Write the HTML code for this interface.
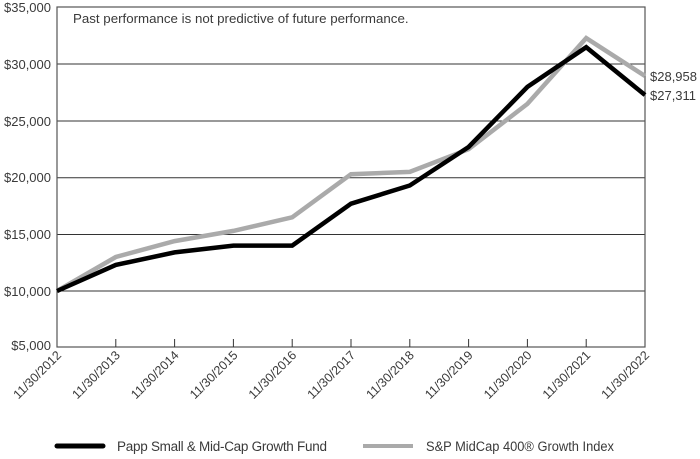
<!DOCTYPE html>
<html><head><style>
body{margin:0;background:#fff;}
svg text{font-family:"Liberation Sans",sans-serif;fill:#3a3a3a;}
</style></head><body>
<svg width="700" height="454" viewBox="0 0 700 454" xmlns="http://www.w3.org/2000/svg">
<g stroke="#333" stroke-width="1">
<line x1="57" y1="64" x2="645" y2="64"/>
<line x1="57" y1="121" x2="645" y2="121"/>
<line x1="57" y1="177.7" x2="645" y2="177.7"/>
<line x1="57" y1="234.5" x2="645" y2="234.5"/>
<line x1="57" y1="291" x2="645" y2="291"/>
</g>
<rect x="57" y="7" width="588" height="340" fill="none" stroke="#555" stroke-width="1.2"/>
<g stroke="#333" stroke-width="1">
<line x1="115.8" y1="339" x2="115.8" y2="347"/><line x1="174.6" y1="339" x2="174.6" y2="347"/>
<line x1="233.4" y1="339" x2="233.4" y2="347"/><line x1="292.2" y1="339" x2="292.2" y2="347"/>
<line x1="351" y1="339" x2="351" y2="347"/><line x1="409.8" y1="339" x2="409.8" y2="347"/>
<line x1="468.6" y1="339" x2="468.6" y2="347"/><line x1="527.4" y1="339" x2="527.4" y2="347"/>
<line x1="586.2" y1="339" x2="586.2" y2="347"/>
</g>
<g font-size="13" text-anchor="end">
<text x="51" y="12">$35,000</text><text x="51" y="69">$30,000</text><text x="51" y="126">$25,000</text>
<text x="51" y="182">$20,000</text><text x="51" y="239">$15,000</text><text x="51" y="296">$10,000</text>
<text x="51" y="350">$5,000</text>
</g>
<text x="73" y="23" font-size="13.3">Past performance is not predictive of future performance.</text>
<polyline fill="none" stroke="#aaa" stroke-width="4.5" points="57,291 115.8,257 174.6,241.1 233.4,230.9 292.2,217.3 351,174.2 409.8,171.9 468.6,149.2 527.4,103.9 586.2,38.1 645,76"/>
<polyline fill="none" stroke="#000" stroke-width="4.5" points="57,291 115.8,264.9 174.6,252.4 233.4,245.6 292.2,245.6 351,203.7 409.8,185.5 468.6,147 527.4,86.9 586.2,47.2 645,95"/>
<text x="650" y="81" font-size="13">$28,958</text>
<text x="650" y="100" font-size="13">$27,311</text>
<g font-size="12.5" text-anchor="end">
<text transform="translate(62,356) rotate(-45)">11/30/2012</text>
<text transform="translate(120.8,356) rotate(-45)">11/30/2013</text>
<text transform="translate(179.6,356) rotate(-45)">11/30/2014</text>
<text transform="translate(238.4,356) rotate(-45)">11/30/2015</text>
<text transform="translate(297.2,356) rotate(-45)">11/30/2016</text>
<text transform="translate(356,356) rotate(-45)">11/30/2017</text>
<text transform="translate(414.8,356) rotate(-45)">11/30/2018</text>
<text transform="translate(473.6,356) rotate(-45)">11/30/2019</text>
<text transform="translate(532.4,356) rotate(-45)">11/30/2020</text>
<text transform="translate(591.2,356) rotate(-45)">11/30/2021</text>
<text transform="translate(650,356) rotate(-45)">11/30/2022</text>
</g>
<line x1="57" y1="446" x2="103" y2="446" stroke="#000" stroke-width="5" stroke-linecap="round"/>
<text x="117" y="451" font-size="13.5" textLength="210" lengthAdjust="spacing">Papp Small &amp; Mid-Cap Growth Fund</text>
<line x1="363" y1="446" x2="413" y2="446" stroke="#aaa" stroke-width="4"/>
<text x="426" y="451" font-size="13.5" textLength="188" lengthAdjust="spacingAndGlyphs">S&amp;P MidCap 400® Growth Index</text>
</svg>
</body></html>
